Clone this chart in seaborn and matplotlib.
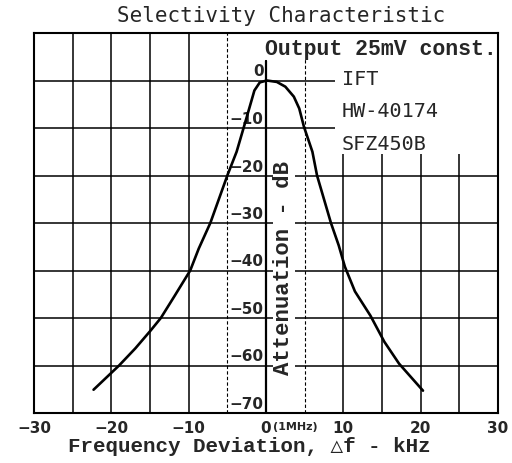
import matplotlib
matplotlib.use("Agg")
import matplotlib.pyplot as plt
import matplotlib.patches as mpatches
import matplotlib.transforms as mtrans
import pandas as pd
import seaborn as sns

# Selectivity curve (kHz, dB)
freq_khz = [-22.3, -19.0, -16.9, -14.9, -13.6, -11.8, -9.8, -8.7, -7.2,
            -6.1, -5.0, -3.8, -2.9, -2.1, -1.5, -0.8, 0.1, 1.4, 2.5, 3.6,
            4.3, 4.9, 6.0, 6.6, 7.5, 8.4, 9.4, 10.2, 11.5, 13.5, 15.3,
            17.2, 20.3]
atten_db = [-65.1, -60.0, -56.4, -52.6, -50.0, -45.3, -40.0, -35.4, -30.0,
            -25.0, -20.0, -15.0, -10.0, -5.5, -2.1, -0.4, 0.0, -0.3, -1.3,
            -3.4, -5.9, -9.7, -15.0, -20.0, -25.0, -30.0, -34.7, -39.2,
            -44.4, -49.5, -55.0, -59.6, -65.3]

x_ticks = [-30, -20, -10, 0, 10, 20, 30]
x_labels = ["\u221230", "\u221220", "\u221210", "0", "10", "20", "30"]
y_ticks = [0, -10, -20, -30, -40, -50, -60, -70]
y_labels = ["0", "\u221210", "\u221220", "\u221230", "\u221240", "\u221250",
            "\u221260", "\u221270"]
filters = ["IFT", "HW-40174", "SFZ450B"]

df = pd.DataFrame({"f": freq_khz, "a": atten_db})

sns.set_style("white")
plt.rcParams["font.family"] = ["DejaVu Sans"]

fig = plt.figure(figsize=(5.12, 4.64), dpi=100)
ax = fig.add_axes([34 / 512, 1 - 414 / 464, 464 / 512, 380 / 464])
ax.set_xlim(-30, 30)
ax.set_ylim(-70, 10)

# grid drawn by hand so the +-5 kHz lines can be dashed
for gx in range(-25, 30, 5):
    ls = (0, (3, 2)) if abs(gx) == 5 else "-"
    lw = 0.8 if abs(gx) == 5 else 1.1
    ax.axvline(gx, color="black", lw=lw, ls=ls, zorder=1)
for gy in range(-60, 10, 10):
    ax.axhline(gy, color="black", lw=1.1, zorder=1)

# blank areas behind the notes
ax.add_patch(mpatches.Rectangle((-0.3, 4.3), 30.3, 5.7, color="white",
                                zorder=1.5, lw=0))
ax.add_patch(mpatches.Rectangle((8.9, -15.4), 21.1, 19.8, color="white",
                                zorder=1.5, lw=0))

# the attenuation axis through 0 kHz
ax.axvline(0, ymax=(4.2 + 70) / 80, color="black", lw=1.6, zorder=2)

sns.lineplot(data=df, x="f", y="a", sort=False, color="black", lw=1.9,
             ax=ax, zorder=5)

for sp in ax.spines.values():
    sp.set_visible(True)
    sp.set_color("black")
    sp.set_linewidth(1.5)

tick_font = dict(family="DejaVu Sans", fontsize=11, fontweight="bold")
ax.set_xticks(x_ticks)
ax.set_xticklabels(x_labels, **tick_font)
ax.set_yticks([])
ax.tick_params(axis="x", length=0, pad=5)
ax.set_xlabel("")
ax.set_ylabel("")

# "(1MHz)" next to the zero label
trans = mtrans.blended_transform_factory(ax.transData, ax.transAxes)
ax.text(0.9, -0.035, "(1MHz)", transform=trans, ha="left", va="center",
        fontsize=8, fontweight="bold")

for yv, lab in zip(y_ticks, y_labels):
    ax.text(-0.3, yv + 2.0, lab, ha="right", va="center", zorder=4,
            bbox=dict(fc="white", ec="none", pad=0.3), **tick_font)

ax.text(2.3, -39.2, "Attenuation - dB", rotation=90, ha="center",
        va="center", family=["Liberation Mono", "DejaVu Sans Mono"],
        fontsize=16, fontweight="bold", zorder=4,
        bbox=dict(fc="white", ec="none", pad=0.5))

ax.text(29.8, 6.7, "Output 25mV const.", ha="right", va="center",
        family=["Liberation Mono", "DejaVu Sans Mono"], fontsize=15.5,
        fontweight="bold", zorder=4)

for i, name in enumerate(filters):
    ax.text(9.8, 0.4 - 6.8 * i, name, ha="left", va="center",
            family="DejaVu Sans Mono", fontsize=14.5, zorder=4)

fig.text(281 / 512, 1 - 16 / 464, "Selectivity Characteristic",
         ha="center", va="center", family="DejaVu Sans Mono", fontsize=15)
fig.text(249 / 512, 1 - 447 / 464, "Frequency Deviation, \u25b3f - kHz",
         ha="center", va="center",
         family=["Liberation Mono", "DejaVu Sans Mono"], fontsize=15,
         fontweight="bold")

fig.savefig("out.png", dpi=100)
